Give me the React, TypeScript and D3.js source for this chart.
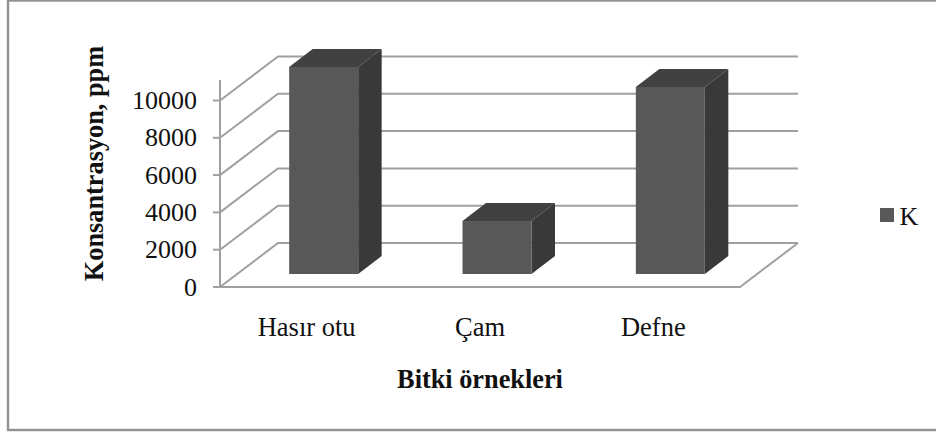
import React from "react";
import * as d3 from "d3";

const categories = ["Hasır otu", "Çam", "Defne"];
const values = [11100, 2840, 10030];
const ticks = [0, 2000, 4000, 6000, 8000, 10000];
const axisTop = 11100;
const seriesName = "K";
const yTitle = "Konsantrasyon, ppm";
const xTitle = "Bitki örnekleri";

const W = 936, H = 434;
const x0 = 220, x1 = 740, yBase = 287, yTickTop = 100.5;
const wallDx = 58, wallDy = -44;
const barBaseDx = 17, barBaseDy = -13;
const depthDx = 23.5, depthDy = -18;
const FONT = "'Liberation Serif', 'Times New Roman', serif";
const grid = "#a0a0a0";
const ink = "#111";

const xS = d3.scaleBand<string>().domain(categories).range([x0, x1]).paddingInner(0.602).paddingOuter(0.301);
const yS = d3.scaleLinear().domain([0, 10000]).range([yBase, yTickTop]);
const path = (pts: [number, number][]) => d3.line()(pts) + "Z";

export default function App() {
  return (
    <svg width={W} height={H} style={{ position: "absolute", left: 0, top: 0, background: "#fff" }} fontFamily={FONT}>
      <rect x={8} y={0.5} width={960} height={429.5} fill="#fff" stroke="#919191" strokeWidth={2.4} />
      {ticks.map(t => {
        const y = yS(t);
        return (
          <g key={t}>
            <path d={d3.line()([[x0, y], [x0 + wallDx, y + wallDy], [x1 + wallDx, y + wallDy]]) || ""} fill="none" stroke={grid} strokeWidth={2} />
            <line x1={x0 - 7} x2={x0} y1={y} y2={y} stroke={grid} strokeWidth={2} />
            <text x={197} y={y + 8.5} fontSize={26} textAnchor="end" fill={ink}>{t}</text>
          </g>
        );
      })}
      <line x1={x0} x2={x0} y1={yBase} y2={yS(axisTop)} stroke={grid} strokeWidth={2} />
      <path d={d3.line()([[x0, yBase], [x1, yBase], [x1 + wallDx, yBase + wallDy]]) || ""} fill="none" stroke={grid} strokeWidth={2} />
      {categories.map((c, i) => {
        const left = xS(c)! + barBaseDx;
        const right = left + xS.bandwidth();
        const bot = yBase + barBaseDy;
        const top = yS(values[i]) + barBaseDy;
        return (
          <g key={c}>
            <path d={path([[left, top], [left + depthDx, top + depthDy], [right + depthDx, top + depthDy], [right, top]])} fill="#414141" />
            <path d={path([[right, top], [right + depthDx, top + depthDy], [right + depthDx, bot + depthDy], [right, bot]])} fill="#393939" />
            <rect x={left} y={top} width={xS.bandwidth()} height={bot - top} fill="#585858" />
            <text x={xS(c)! + xS.bandwidth() / 2} y={336} fontSize={26.5} textAnchor="middle" fill={ink}>{c}</text>
          </g>
        );
      })}
      <text transform={`translate(103,163.5) rotate(-90)`} fontSize={26.3} fontWeight="bold" textAnchor="middle" fill={ink}>{yTitle}</text>
      <text x={480} y={388} fontSize={26.3} fontWeight="bold" textAnchor="middle" fill={ink}>{xTitle}</text>
      <rect x={880} y={208} width={14} height={14} fill="#595959" />
      <text x={899.5} y={225} fontSize={26} fill={ink}>{seriesName}</text>
    </svg>
  );
}
